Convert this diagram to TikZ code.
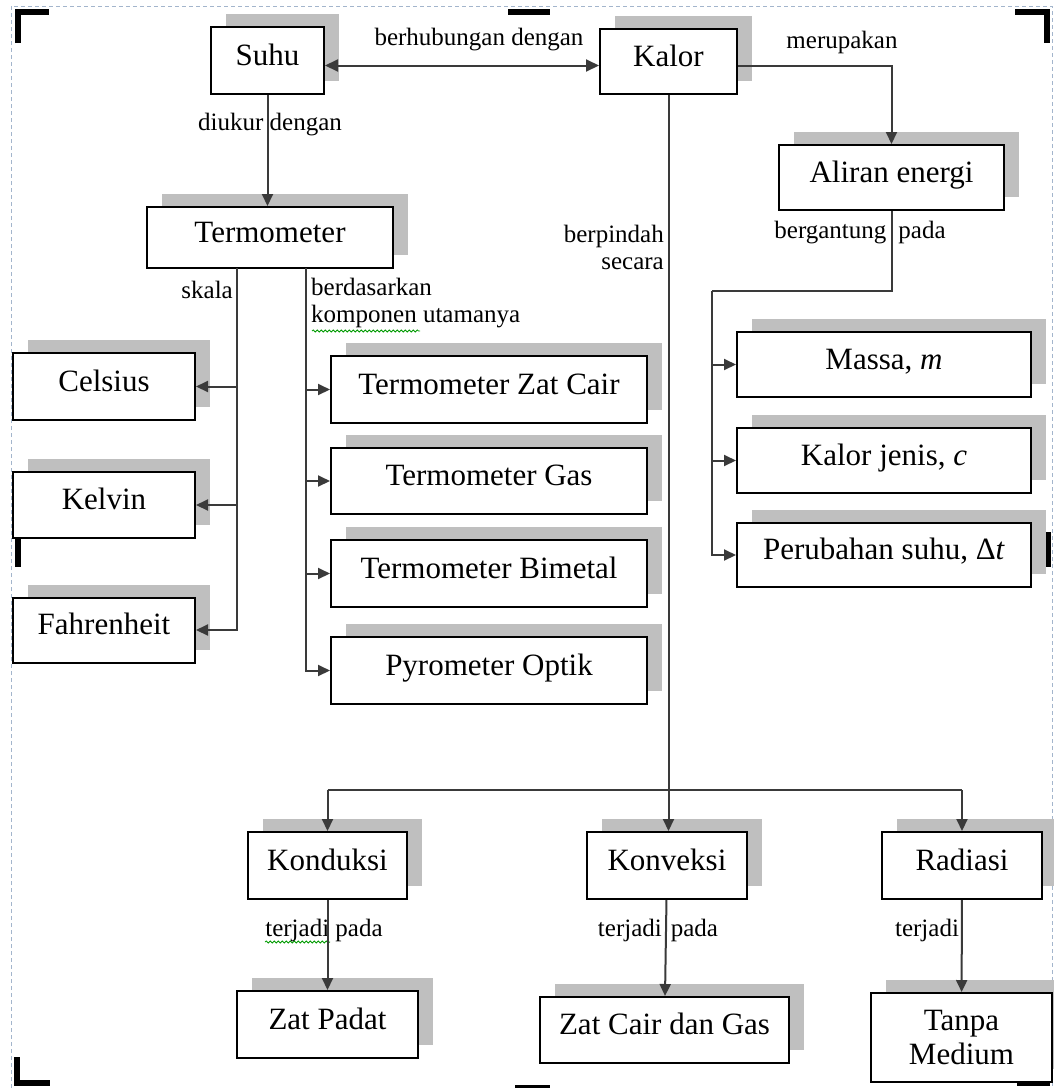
\documentclass[tikz,border=0pt]{standalone}
\usepackage{fontspec}
\setmainfont{Liberation Serif}
\usepackage{tikz}
\usetikzlibrary{arrows.meta,shadows,decorations.pathmorphing}

\definecolor{bayang}{HTML}{BFBFBF}
\definecolor{abugaris}{HTML}{3A3A3A}
\definecolor{birubingkai}{HTML}{A3B5CC}

\tikzset{
    kotak/.style={draw=black, line width=2pt, fill=white, inner sep=0pt,
        font=\fontsize{31}{35}\selectfont, text height=21pt, text depth=12pt,
        general shadow={fill=bayang, shadow xshift=15pt, shadow yshift=13pt}},
    ket/.style={font=\fontsize{25}{27}\selectfont, inner sep=0pt},
    garis/.style={draw=abugaris, line width=2pt},
    panah/.style={garis, -{Triangle[length=12pt,width=11pt]}},
    sudut/.style={line width=6pt, black},
    salah/.style={green!60!black, line width=0.8pt, decorate,
        decoration={snake, amplitude=1pt, segment length=4pt}}
}

\begin{document}
\begin{tikzpicture}[x=1pt,y=-1pt]
    \useasboundingbox (0,0) rectangle (1054,1088);
    \clip (0,0) rectangle (1054,1088);

    % bingkai halaman
    \draw[birubingkai, line width=1pt, dash pattern=on 4pt off 3pt] (11,1088) -- (11,6) -- (1052,6) -- (1052,1088);
    \draw[sudut] (18,43) -- (18,12) -- (49,12);
    \draw[sudut] (508,12) -- (550,12);
    \draw[sudut] (1015,12) -- (1047,12) -- (1047,43);
    \draw[sudut] (18,533) -- (18,567);
    \draw[sudut] (1048,532) -- (1048,567);
    \draw[sudut] (17,1057) -- (17,1083) -- (50,1083);
    \draw[sudut] (515,1088) -- (550,1088);
    \draw[sudut] (1017,1083) -- (1047,1083) -- (1047,1058);

    % konsep utama
    \node[kotak, minimum width=113pt, minimum height=67pt] (suhu) at (267.5,60.5) {Suhu};
    \node[kotak, minimum width=137pt, minimum height=65pt] (kalor) at (668.5,61.5) {Kalor};
    \node[kotak, minimum width=246pt, minimum height=61pt] (termometer) at (270,237.5) {Termometer};
    \node[kotak, minimum width=225pt, minimum height=65pt] (aliran) at (891.5,177.5) {Aliran energi};

    \node[kotak, minimum width=182pt, minimum height=67pt] (celsius) at (104,386.5) {Celsius};
    \node[kotak, minimum width=182pt, minimum height=66pt] (kelvin) at (104,505) {Kelvin};
    \node[kotak, minimum width=182pt, minimum height=65pt] (fahrenheit) at (104,630) {Fahrenheit};

    \node[kotak, minimum width=316pt, minimum height=67pt] (tzc) at (489,389.5) {Termometer Zat Cair};
    \node[kotak, minimum width=316pt, minimum height=66pt] (tgas) at (489,481) {Termometer Gas};
    \node[kotak, minimum width=316pt, minimum height=67pt] (tbim) at (489,573.5) {Termometer Bimetal};
    \node[kotak, minimum width=316pt, minimum height=67pt] (pyro) at (489,670.5) {Pyrometer Optik};

    \node[kotak, minimum width=294pt, minimum height=65pt] (massa) at (884,364.5) {Massa, \textit{m}};
    \node[kotak, minimum width=294pt, minimum height=65pt] (kjenis) at (884,460.5) {Kalor jenis, \textit{c}};
    \node[kotak, minimum width=294pt, minimum height=64pt] (perubahan) at (884,555) {Perubahan suhu, Δ\textit{t}};

    \node[kotak, minimum width=159pt, minimum height=67pt] (konduksi) at (327.5,865.5) {Konduksi};
    \node[kotak, minimum width=160pt, minimum height=67pt] (konveksi) at (667,865.5) {Konveksi};
    \node[kotak, minimum width=160pt, minimum height=67pt] (radiasi) at (962,865.5) {Radiasi};

    \node[kotak, minimum width=181pt, minimum height=67pt] (zatpadat) at (327.5,1024.5) {Zat Padat};
    \node[kotak, minimum width=249pt, minimum height=66pt] (zatcair) at (664.5,1030) {Zat Cair dan Gas};
    \node[kotak, minimum width=181pt, minimum height=89pt, text height=, text depth=, align=center,
        font=\fontsize{31}{34}\selectfont] (tanpa) at (961.5,1037.5) {Tanpa\\Medium};

    % kata penghubung
    \node[ket] (kHubung) at (479,40) {berhubungan dengan};
    \node[ket] (kUkur) at (270,125) {diukur dengan};
    \node[ket, anchor=east] (kSkala) at (233,290) {skala};
    \node[ket, anchor=west, align=left] (kDasar) at (311,303.5) {berdasarkan\\komponen utamanya};
    \node[ket] (kMerupakan) at (842,42) {merupakan};
    \node[ket, anchor=east, align=right] (kPindah) at (664,247.5) {berpindah\\secara};
    \node[ket] (kGantung) at (860,233) {bergantung\hspace{12pt}pada};
    \node[ket] (kKonduksi) at (324,930) {terjadi pada};
    \node[ket] (kKonveksi) at (658,930) {terjadi\hspace{9pt}pada};
    \node[ket] (kRadiasi) at (927,930) {terjadi};

    \draw[salah] (312,331) -- (420,331);
    \draw[salah] (265,942) -- (330,942);

    % penghubung
    \draw[garis, {Triangle[length=13pt,width=12pt]}-{Triangle[length=13pt,width=12pt]}]
        ([yshift=-5pt]suhu.east) -- ([yshift=-4pt]kalor.west);
    \draw[panah] (suhu.south) -- (termometer.north -| suhu.south);
    \draw[panah] ([yshift=-4pt]kalor.east) -| (aliran.north);

    \coordinate (skala) at (237,268);
    \foreach \n in {celsius,kelvin,fahrenheit}
        \draw[panah] (skala) |- (\n.east);
    \coordinate (dasar) at (306,268);
    \foreach \n in {tzc,tgas,tbim,pyro}
        \draw[panah] (dasar) |- (\n.west);

    \coordinate (gantung) at (712,291);
    \draw[garis] (aliran.south) |- (gantung);
    \foreach \n in {massa,kjenis,perubahan}
        \draw[panah] (gantung) |- (\n.west);

    \coordinate (bagi) at (668.5,790);
    \draw[garis] (bagi -| konduksi.north) -- (bagi -| radiasi.north);
    \draw[panah] (kalor.south) -- (kalor.south |- konveksi.north);
    \foreach \n in {konduksi,radiasi}
        \draw[panah] (bagi -| \n.north) -- (\n.north);

    \draw[panah] (konduksi) -- (zatpadat);
    \draw[panah] (konveksi) -- (zatcair);
    \draw[panah] (radiasi) -- (tanpa);
\end{tikzpicture}
\end{document}
